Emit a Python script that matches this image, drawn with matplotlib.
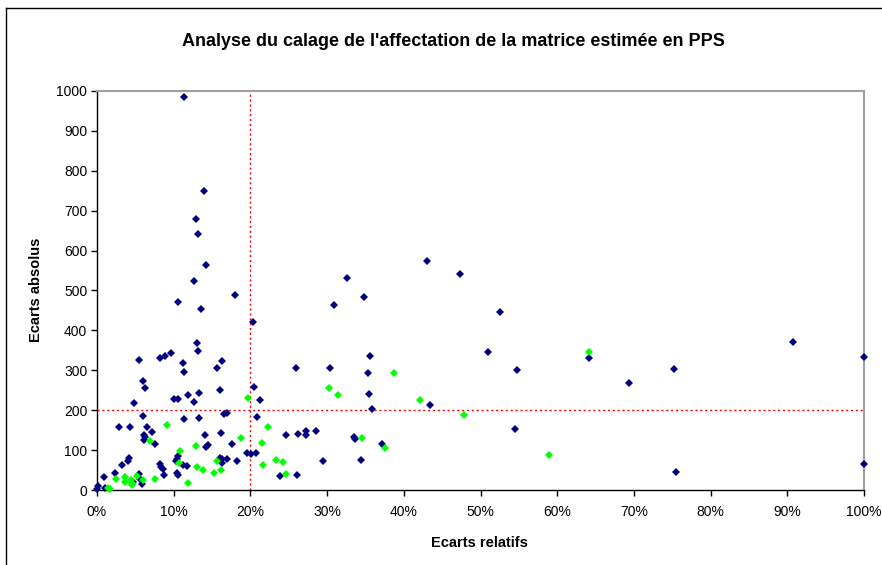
import matplotlib
matplotlib.use("Agg")
import matplotlib.pyplot as plt
from matplotlib.ticker import FuncFormatter
from matplotlib.lines import Line2D

# relative gap (%) and absolute gap, dark blue points
navy_x = [11.4, 14.0, 12.9, 13.2, 14.2, 12.6, 18.0, 10.6, 13.6, 20.3, 13.0, 13.2,
          5.5, 8.2, 8.9, 9.6, 11.2, 16.3, 15.6, 11.3, 6.0, 6.2, 13.3, 16.0, 11.9,
          10.1, 10.6, 12.7, 4.8, 20.5, 21.3, 6.0, 11.4, 13.3, 16.6, 16.9, 20.9,
          2.9, 4.3, 6.5, 7.2, 6.1, 6.3, 6.1, 7.5, 14.1, 16.2, 14.5, 14.2, 17.6,
          19.6, 20.1, 20.7, 4.2, 4.0, 3.2, 0.9, 2.3, 4.7, 5.5, 5.6, 5.8, 8.2, 8.4,
          8.6, 8.7, 10.5, 10.4, 10.3, 11.2, 11.7, 10.4, 10.5, 16.0, 16.3, 16.3,
          17.0, 18.3, 0.0, 0.1, 1.0,
          43.0, 47.3, 32.6, 34.8, 30.9, 52.5, 51.0, 35.6, 25.9, 30.4, 35.3, 35.4,
          43.4, 35.8, 24.7, 26.2, 27.2, 27.3, 28.5, 33.5, 33.7, 37.2, 29.5, 34.4,
          23.8, 26.1, 54.8, 64.1, 69.3, 75.2, 90.7, 100.0, 54.5, 75.5, 100.0]
navy_y = [986, 749, 678, 641, 563, 523, 489, 472, 453, 420, 368, 349,
          326, 330, 335, 343, 319, 324, 307, 297, 273, 255, 243, 251, 237,
          227, 227, 220, 219, 259, 225, 185, 178, 181, 190, 194, 184,
          159, 157, 157, 146, 138, 132, 125, 115, 139, 142, 114, 109, 115,
          92, 90, 92, 79, 73, 62, 32, 42, 21, 39, 27, 15, 65, 58,
          52, 38, 85, 77, 73, 63, 60, 42, 37, 79, 68, 77,
          77, 73, 2, 10, 6,
          574, 542, 532, 484, 463, 445, 345, 337, 307, 306, 292, 240,
          213, 202, 138, 141, 148, 138, 149, 133, 127, 116, 73, 76,
          35, 38, 302, 331, 269, 304, 371, 333, 153, 44, 64]

# green points
green_x = [19.7, 9.1, 6.9, 12.9, 18.8, 2.5, 3.7, 3.6, 4.4, 4.5, 4.6, 5.2, 6.0,
           7.5, 10.8, 10.7, 11.9, 13.1, 13.8, 15.3, 16.1, 15.6, 1.4, 1.7,
           38.7, 30.2, 31.4, 42.1, 47.8, 22.3, 34.6, 37.6, 21.5, 23.4, 24.3,
           21.6, 24.6, 64.2, 58.9]
green_y = [230, 163, 124, 110, 131, 28, 33, 21, 25, 18, 13, 36, 25,
           27, 98, 67, 18, 57, 50, 42, 51, 73, 6, 2,
           294, 256, 238, 226, 188, 159, 130, 105, 117, 74, 71,
           63, 39, 345, 89]

plt.rcParams['font.family'] = ['Liberation Sans', 'DejaVu Sans']

fig = plt.figure(figsize=(8.82, 5.65), dpi=100)
ax = fig.add_axes([0.110, 0.1327, 0.8696, 0.7063])

# threshold lines
ax.axvline(20, color='red', linestyle=(0, (1.5, 2)), lw=1, zorder=1)
ax.axhline(200, color='red', linestyle=(0, (1.5, 2)), lw=1, zorder=1)

ax.plot(navy_x, navy_y, 'D', color='#000080', ms=3.8, mew=0, clip_on=False, zorder=3)
ax.plot(green_x, green_y, 'D', color='#00FF00', ms=3.8, mew=0, clip_on=False, zorder=3)

ax.set_xlim(0, 100)
ax.set_ylim(0, 1000)
ax.set_xticks(range(0, 101, 10))
ax.set_yticks(range(0, 1001, 100))
ax.xaxis.set_major_formatter(FuncFormatter(lambda v, p: '%d%%' % v))
ax.tick_params(axis='both', direction='out', length=4, width=1, labelsize=10)
ax.tick_params(axis='x', pad=7)
ax.tick_params(axis='y', pad=3)

for s in ['top', 'right']:
    ax.spines[s].set_color('#a0a0a0')
    ax.spines[s].set_linewidth(1.5)
for s in ['left', 'bottom']:
    ax.spines[s].set_color('black')
    ax.spines[s].set_linewidth(1)

fig.text(0.514, 0.926, "Analyse du calage de l'affectation de la matrice estimée en PPS",
         ha='center', va='center', fontsize=13, fontweight='bold')
fig.text(0.544, 0.039, 'Ecarts relatifs', ha='center', va='center',
         fontsize=10.5, fontweight='bold')
fig.text(0.041, 0.487, 'Ecarts absolus', ha='center', va='center',
         rotation=90, fontsize=10.5, fontweight='bold')

# outer chart frame (left and top edges visible)
fig.add_artist(Line2D([0.0068, 0.0068], [0.0, 0.9858], transform=fig.transFigure,
                      color='black', lw=1))
fig.add_artist(Line2D([0.0068, 1.0], [0.9858, 0.9858], transform=fig.transFigure,
                      color='black', lw=1))

fig.savefig('out.png', dpi=100)
